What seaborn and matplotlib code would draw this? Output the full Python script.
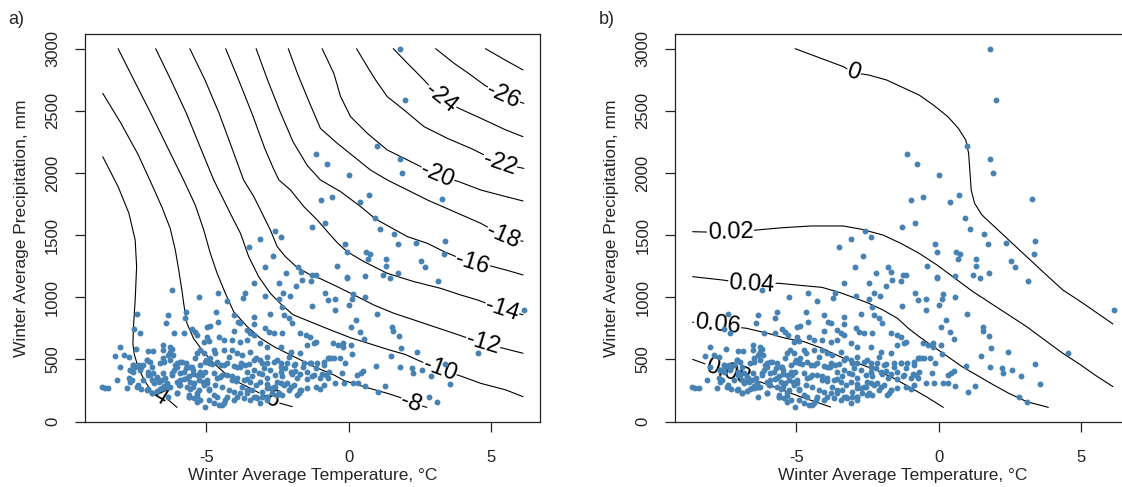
import numpy as np
import pandas as pd
import matplotlib
matplotlib.use("Agg")
import matplotlib.pyplot as plt
import seaborn as sns

# ---- scatter: winter temperature (C) / winter precipitation (mm) ----
temp_high = [1.79, 2.00, 1.00, -1.13, -0.77, 1.79, 1.89, 0.00, 0.72, 0.40, -0.57, -0.97, 3.27,
             -0.83, 0.94, -1.30, 1.10, 1.60, -2.58, -2.37, -3.10, -3.50, 2.36, 1.73, 3.40, -0.13]
precip_high = [3000, 2587, 2220, 2153, 2072, 2110, 1997, 1984, 1823, 1769, 1810, 1783, 1788,
               1600, 1635, 1568, 1547, 1509, 1536, 1483, 1466, 1402, 1440, 1429, 1456, 1429]

temp_east = [3.36, 1.32, 2.54, 1.32, 2.69, 1.20, 1.75, 1.44, 3.14, 1.54, 1.57, 1.77, 1.83, 2.42,
             1.48, 1.80, 2.24, 2.27, 2.59, 2.89, 3.38, 3.57, 4.55, 6.16, 1.28, 2.81, 3.10]
precip_east = [1349, 1308, 1292, 1255, 1241, 1180, 1198, 1158, 1134, 759, 732, 692, 595, 563,
               528, 437, 429, 394, 416, 370, 464, 300, 550, 898, 290, 201, 161]

temp_mid = [0.60, 0.75, 0.68, -0.05, -0.42, -0.05, -0.07, 0.56, 0.15, 0.11, 0.56, -0.46, 0.00,
            -0.46, 1.00, 0.25, 0.07, 0.39, 0.54, -0.54, -0.38, -0.20, -0.19, 0.07, 0.11, -0.63,
            -0.52, -0.31, -0.14, 0.95, -0.22, 0.31, 0.42, 0.52, -0.46, -0.16, 0.16, 0.33, 0.58, 1.03]
precip_mid = [1367, 1349, 1306, 1362, 1255, 1166, 1153, 1172, 1027, 987, 1000, 987, 938,
              898, 866, 818, 759, 724, 665, 635, 617, 630, 598, 617, 544, 509,
              515, 509, 474, 448, 389, 375, 394, 410, 308, 308, 314, 308, 290, 241]

temp_upper = [-2.66, -1.78, -1.68, -2.94, -2.19, -1.65, -1.27, -1.15, -3.33, -2.45, -1.33, -6.21,
              -5.25, -4.60, -3.65, -3.71, -2.92, -2.29, -2.06, -1.86, -0.84, -0.72, -2.45]
precip_upper = [1335, 1241, 1206, 1247, 1198, 1139, 1180, 1180, 1113, 1113, 1134, 1059,
                1005, 1032, 1038, 997, 1011, 1032, 1013, 1091, 1032, 979, 984]

temp_west = [-7.42, -6.36, -6.41, -5.70, -5.74, -7.54, -7.32, -6.15, -5.77, -5.50, -5.39, -5.31,
             -4.98, -4.98, -5.09, -4.92, -8.03, -8.20, -7.89, -7.73, -7.46, -7.56, -7.04, -6.88,
             -7.09, -6.98, -6.53, -6.53, -6.29, -6.21, -6.36, -6.17, -6.27, -6.50, -6.04, -5.86,
             -5.70, -5.56, -5.39, -5.33, -5.23, -5.09, -5.04, -4.92, -7.51, -7.38, -7.21, -7.68,
             -7.56, -7.32, -8.03, -8.15, -7.73, -7.68, -7.79, -7.62, -7.44, -7.30, -7.04, -6.98,
             -6.86, -6.74, -6.92, -6.83, -6.68, -6.56, -6.44, -6.38, -6.50, -6.62, -6.36, -6.27,
             -6.21, -6.13, -6.04, -5.94, -5.80, -5.92, -5.77, -5.97, -5.62, -5.47, -5.33, -5.21,
             -5.04, -5.56, -5.42, -5.27, -5.12, -4.98, -5.68, -5.47, -5.27, -5.07, -4.92, -8.67,
             -8.56, -8.44, -7.04, -6.92, -6.74, -6.56, -6.36, -6.04, -5.62, -5.62, -5.45, -5.33,
             -5.21, -5.04, -4.92]
precip_west = [866, 858, 791, 885, 831, 743, 710, 710, 710, 743, 724, 697,
               764, 684, 643, 651, 603, 528, 536, 523, 582, 456, 571, 571,
               496, 483, 617, 576, 598, 582, 536, 536, 496, 483, 469, 483,
               469, 442, 509, 550, 576, 550, 483, 469, 442, 456, 456, 416,
               402, 416, 442, 335, 349, 322, 268, 335, 276, 260, 402, 375,
               394, 357, 335, 308, 322, 335, 349, 308, 287, 260, 276, 282,
               389, 416, 442, 389, 402, 335, 340, 295, 367, 416, 375, 402,
               402, 322, 314, 335, 322, 308, 276, 282, 255, 295, 260, 276,
               268, 268, 260, 233, 249, 268, 201, 228, 214, 196, 188, 206,
               174, 115, 174]

temp_core = [-4.27, -2.34, -1.28, -4.65, -4.04, -3.33, -2.75, -2.28, -2.10, -1.98, -4.86, -4.60,
             -3.90, -3.80, -3.33, -2.92, -2.81, -2.63, -2.34, -1.69, -1.48, -1.34, -1.22, -1.16,
             -1.46, -4.04, -3.57, -3.45, -3.33, -4.57, -4.39, -4.10, -3.80, -3.57, -3.10, -2.86,
             -2.39, -2.04, -1.69, -4.74, -4.39, -4.10, -3.92, -3.74, -3.45, -3.27, -3.10, -2.86,
             -2.63, -2.39, -2.16, -1.87, -1.57, -1.34, -1.10, -0.87, -0.73, -4.86, -4.62, -4.48,
             -4.27, -4.04, -3.83, -3.63, -3.57, -3.33, -3.16, -2.98, -2.75, -2.57, -2.39, -2.22,
             -2.04, -1.87, -1.69, -1.46, -1.22, -0.99, -0.81, -0.69, -4.74, -4.51, -4.27, -4.10,
             -3.92, -3.69, -3.45, -3.27, -3.10, -2.86, -2.75, -2.57, -2.39, -2.16, -1.92, -1.69,
             -1.46, -1.16, -0.99, -4.68, -4.45, -4.21, -4.04, -3.80, -3.57, -3.33, -3.04, -2.86,
             -2.69, -2.51, -2.34, -2.04, -1.81, -4.62, -4.33, -4.04, -3.69, -3.45, -3.22, -2.86,
             -4.74, -4.45, -3.10]
precip_core = [973, 925, 930, 885, 858, 845, 866, 858, 831, 791, 769, 804,
               804, 791, 786, 751, 724, 710, 716, 716, 697, 684, 630, 643,
               617, 732, 737, 710, 697, 684, 657, 657, 643, 657, 630, 603,
               603, 563, 550, 576, 576, 576, 550, 536, 563, 509, 496, 469,
               483, 469, 474, 464, 469, 474, 469, 483, 509, 509, 483, 456,
               469, 448, 442, 456, 402, 416, 389, 429, 416, 375, 402, 429,
               402, 410, 383, 402, 375, 349, 375, 402, 389, 362, 375, 335,
               349, 335, 322, 295, 322, 303, 268, 276, 308, 314, 295, 255,
               268, 276, 260, 295, 276, 255, 241, 228, 255, 201, 241, 201,
               228, 214, 214, 276, 214, 201, 174, 174, 188, 174, 188, 174,
               147, 134, 147]

temp_dense = [-7.56, -7.09, -6.62, -6.09, -5.71, -5.21, -4.80, -4.39, -3.92, -3.51, -3.04, -2.51,
              -1.92, -1.33, -0.86, -7.68, -7.21, -6.72, -6.21, -5.68, -5.15, -4.62, -4.09, -3.56,
              -3.04, -2.51, -1.98, -1.45, -0.92, -7.39, -6.92, -6.39, -5.92, -5.33, -4.92, -4.39,
              -3.92, -3.39, -2.86, -2.45, -2.09, -1.68, -0.88, -5.33, -4.56, -5.62, -3.27, -2.86,
              -7.09, -6.51, -6.04, -5.56, -4.74, -4.27, -3.74, -3.56, -3.04, -2.62, -2.27, -1.74,
              -7.31, -6.92, -6.51, -6.27, -5.92, -5.51, -5.00, -4.68, -4.21, -3.78, -3.33, -2.88,
              -2.39, -2.09, -1.59, -1.15, -0.68, -7.04, -6.53, -6.04, -5.47, -4.98, -4.45, -3.94,
              -3.39, -2.86, -2.33, -1.80, -1.27, -0.74]
precip_dense = [456, 496, 469, 456, 429, 456, 464, 456, 442, 464, 469, 496,
                456, 469, 456, 416, 335, 349, 375, 349, 375, 349, 367, 340,
                383, 322, 383, 340, 383, 295, 228, 282, 295, 228, 255, 147,
                201, 255, 268, 228, 255, 255, 295, 161, 134, 201, 201, 201,
                255, 268, 228, 260, 214, 201, 282, 228, 201, 282, 295, 228,
                442, 442, 509, 563, 483, 442, 496, 550, 523, 469, 496, 523,
                442, 523, 442, 429, 509, 375, 389, 322, 383, 335, 375, 330,
                367, 349, 367, 349, 367, 349]

# ---- panel a contour lines (temperature, precipitation) and label points ----
c4_t = [-8.64, -8.10, -7.72, -7.50, -7.45, -7.50, -7.56, -7.58, -7.54, -7.44, -7.27, -7.11, -7.00, -6.72, -6.33, -6.03]
c4_p = [2131, 1890, 1676, 1461, 1247, 979, 764, 630, 550, 469, 375, 308, 268, 215, 174, 115]
c6_t = [-8.64, -8.00, -7.40, -6.90, -6.55, -6.27, -6.09, -5.97, -5.86, -5.77, -5.68, -5.45, -5.15, -4.74, -4.27, -3.80, -3.33, -2.80, -2.39, -1.98]
c6_p = [2641, 2400, 2150, 1900, 1720, 1555, 1381, 1220, 1059, 911, 791, 670, 576, 469, 375, 308, 255, 185, 147, 121]
c8_t = [-8.10, -7.55, -6.95, -6.35, -5.80, -5.39, -5.09, -4.86, -4.62, -4.33, -4.04, -3.56, -3.09, -2.62, -1.92, -1.21, -0.51, -0.15, 0.54, 1.36, 1.83, 2.20, 2.75]
c8_p = [3000, 2750, 2480, 2200, 1944, 1743, 1542, 1354, 1193, 1032, 885, 764, 670, 603, 523, 442, 375, 330, 281, 228, 193, 150, 115]
c10_t = [-6.78, -6.25, -5.70, -5.20, -4.74, -4.39, -4.10, -3.80, -3.51, -3.16, -2.75, -2.40, -1.95, -1.20, -0.63, 0.08, 0.78, 1.43, 2.00, 2.42, 3.20, 3.90, 4.65, 5.53, 6.13]
c10_p = [3000, 2750, 2480, 2200, 1944, 1783, 1649, 1515, 1327, 1166, 1032, 950, 860, 790, 737, 674, 624, 577, 540, 496, 420, 370, 308, 255, 201]
c12_t = [-5.58, -5.05, -4.55, -4.10, -3.69, -3.33, -3.04, -2.75, -2.51, -2.22, -1.81, -1.34, -0.99, -0.40, 0.19, 0.89, 1.60, 2.30, 3.00, 3.71, 4.72, 5.44, 6.13]
c12_p = [3000, 2750, 2480, 2200, 1944, 1810, 1676, 1542, 1408, 1327, 1241, 1180, 1150, 1086, 1019, 938, 871, 818, 764, 710, 630, 590, 550]
c14_t = [-4.32, -3.85, -3.38, -2.95, -2.65, -2.45, -2.04, -1.57, -1.10, -0.75, -0.40, -0.05, 0.54, 1.36, 2.30, 3.24, 3.94, 4.53, 5.40, 6.13]
c14_p = [3000, 2740, 2470, 2200, 2040, 1944, 1863, 1729, 1622, 1530, 1440, 1367, 1287, 1193, 1126, 1072, 1019, 979, 905, 860]
c16_t = [-3.25, -2.85, -2.42, -1.95, -1.45, -0.99, -0.28, 0.45, 0.95, 1.50, 2.07, 2.77, 3.36, 4.35, 5.00, 5.53, 6.13]
c16_p = [3000, 2750, 2500, 2250, 2060, 1944, 1850, 1725, 1630, 1560, 1488, 1434, 1367, 1273, 1252, 1220, 1180]
c18_t = [-2.12, -1.80, -1.42, -0.99, -0.40, 0.19, 0.77, 1.36, 2.07, 2.77, 3.71, 4.65, 5.44, 6.13]
c18_p = [3000, 2802, 2590, 2359, 2239, 2131, 2024, 1944, 1863, 1783, 1689, 1595, 1495, 1450]
c20_t = [-0.93, -0.52, -0.28, 0.07, 0.66, 1.36, 2.07, 3.12, 3.88, 4.65, 5.53, 6.13]
c20_p = [3000, 2802, 2614, 2453, 2319, 2185, 2105, 1984, 1930, 1863, 1810, 1775]
c22_t = [0.28, 0.66, 0.95, 1.36, 1.95, 2.65, 3.47, 4.30, 4.77, 5.31, 6.16]
c22_p = [3000, 2855, 2748, 2614, 2507, 2373, 2279, 2198, 2145, 2078, 2037]
c24_t = [1.57, 2.07, 2.42, 2.65, 3.24, 3.88, 4.65, 5.53, 6.13]
c24_p = [3000, 2882, 2802, 2748, 2601, 2520, 2440, 2346, 2292]
c26_t = [3.06, 3.71, 4.30, 4.77, 5.44, 6.16]
c26_p = [3000, 2882, 2788, 2708, 2620, 2560]
c28_t = [4.81, 5.50, 6.13]
c28_p = [3000, 2909, 2829]

levels_a = ["-4", "-6", "-8", "-10", "-12", "-14", "-16", "-18", "-20", "-22", "-24", "-26", None]
label_t_a = [-6.72, -2.80, 2.20, 3.20, 4.72, 5.40, 4.35, 5.44, 3.12, 5.31, 3.24, 5.44, None]
label_p_a = [215, 185, 150, 420, 630, 905, 1273, 1495, 1984, 2078, 2601, 2620, None]

# ---- panel b contour lines ----
b0_t = [-5.05, -3.98, -3.35, -2.99, -2.46, -1.83, -1.20, -0.69, -0.19, 0.32, 0.69, 0.95, 1.05, 1.10, 1.14, 1.26, 1.52, 1.96, 2.46, 3.09, 3.72, 4.36, 4.99, 6.12]
b0_p = [3000, 2909, 2855, 2807, 2788, 2748, 2681, 2627, 2547, 2453, 2359, 2265, 2158, 1997, 1863, 1756, 1662, 1568, 1461, 1327, 1193, 1059, 965, 786]
b2_t = [-8.65, -7.32, -6.38, -5.49, -4.48, -3.35, -2.71, -1.96, -1.33, -0.69, -0.06, 0.57, 1.20, 1.83, 2.46, 3.09, 3.72, 4.36, 4.99, 5.49, 6.12]
b2_p = [1528, 1520, 1542, 1560, 1574, 1574, 1547, 1501, 1434, 1354, 1260, 1153, 1046, 952, 858, 764, 657, 550, 456, 375, 282]
b4_t = [-8.65, -7.58, -6.57, -5.62, -4.99, -4.10, -3.47, -2.97, -2.46, -1.96, -1.45, -1.07, -0.69, -0.19, 0.32, 0.82, 1.33, 1.83, 2.46, 3.09, 3.85]
b4_p = [1166, 1139, 1105, 1113, 1099, 1080, 1038, 997, 952, 898, 831, 751, 684, 603, 523, 442, 375, 308, 228, 161, 115]
b6_t = [-8.65, -7.77, -6.76, -6.00, -5.37, -4.73, -4.10, -3.47, -2.84, -2.21, -1.58, -0.95, -0.44, 0.16]
b6_p = [800, 777, 751, 710, 670, 643, 590, 523, 469, 416, 349, 268, 201, 115]
b8_t = [-8.65, -8.34, -7.42, -6.63, -5.81, -4.87, -3.80]
b8_p = [501, 475, 400, 349, 282, 201, 118]

levels_b = ["0", "0.02", "0.04", "0.06", "0.08"]
label_t_b = [-2.99, -7.32, -6.57, -7.77, -7.42]
label_p_b = [2807, 1520, 1105, 777, 400]

lines_a = [(c4_t, c4_p), (c6_t, c6_p), (c8_t, c8_p), (c10_t, c10_p), (c12_t, c12_p),
           (c14_t, c14_p), (c16_t, c16_p), (c18_t, c18_p), (c20_t, c20_p), (c22_t, c22_p),
           (c24_t, c24_p), (c26_t, c26_p), (c28_t, c28_p)]
lines_b = [(b0_t, b0_p), (b2_t, b2_p), (b4_t, b4_p), (b6_t, b6_p), (b8_t, b8_p)]

df = pd.DataFrame({
    "temp": temp_high + temp_east + temp_mid + temp_upper + temp_west + temp_core + temp_dense,
    "precip": precip_high + precip_east + precip_mid + precip_upper + precip_west + precip_core + precip_dense,
})

sns.set_style("ticks")
plt.rcParams["font.family"] = ["Liberation Sans", "DejaVu Sans"]
plt.rcParams["axes.unicode_minus"] = False

fig = plt.figure(figsize=(11.22, 4.87), dpi=100)
ax_a = fig.add_axes([0.0756, 0.1329, 0.4060, 0.7965])
ax_b = fig.add_axes([0.6016, 0.1329, 0.4060, 0.7965])


def setup(ax):
    ax.set_xlim(-9.27, 6.74)
    ax.set_ylim(-5, 3115)
    ax.set_xticks([-5, 0, 5])
    ax.set_yticks(range(0, 3001, 500))
    ax.tick_params(direction="out", length=7.2, width=0.9, labelsize=12, colors="#222222")
    ax.tick_params(axis="x", pad=12.5)
    ax.tick_params(axis="y", pad=10.5, labelrotation=90)
    for lab in ax.get_yticklabels():
        lab.set_va("center")
    for sp in ax.spines.values():
        sp.set_linewidth(0.9)
        sp.set_color("#222222")


def label_angle(ax, xs, ys, lx, ly):
    pts = ax.transData.transform(np.column_stack([xs, ys]))
    p = ax.transData.transform((lx, ly))
    i = int(np.argmin(np.hypot(*(pts - p).T)))
    i0, i1 = max(i - 1, 0), min(i + 1, len(xs) - 1)
    dx, dy = pts[i1] - pts[i0]
    return np.degrees(np.arctan2(dy, dx))


def draw_contours(ax, lines, levels, lts, lps):
    for (xs, ys), lev, lx, ly in zip(lines, levels, lts, lps):
        sns.lineplot(x=xs, y=ys, ax=ax, sort=False, estimator=None, color="black",
                     linewidth=0.8, zorder=2, legend=False)
        if lev is None:
            continue
        ang = label_angle(ax, xs, ys, lx, ly)
        ax.text(lx, ly, lev, rotation=ang, rotation_mode="anchor", ha="center", va="center",
                fontsize=17, color="black", zorder=3,
                bbox=dict(facecolor="white", edgecolor="none", pad=0.5))


for ax, lines, levels, lts, lps in [(ax_a, lines_a, levels_a, label_t_a, label_p_a),
                                    (ax_b, lines_b, levels_b, label_t_b, label_p_b)]:
    setup(ax)
    draw_contours(ax, lines, levels, lts, lps)
    sns.scatterplot(data=df, x="temp", y="precip", ax=ax, color="#4682B4", s=18,
                    linewidth=0, zorder=4, legend=False)
    setup(ax)
    ax.set_xlabel("Winter Average Temperature, °C", fontsize=12.5)
    ax.set_ylabel("Winter Average Precipitation, mm", fontsize=12.5)
    ax.xaxis.set_label_coords(0.5, -0.118)
    ax.yaxis.set_label_coords(-0.122, 0.5)

fig.text(8 / 1122, 1 - 19 / 487, "a)", ha="left", va="center", fontsize=13)
fig.text(599 / 1122, 1 - 19 / 487, "b)", ha="left", va="center", fontsize=13)

fig.savefig("out.png", dpi=100)
